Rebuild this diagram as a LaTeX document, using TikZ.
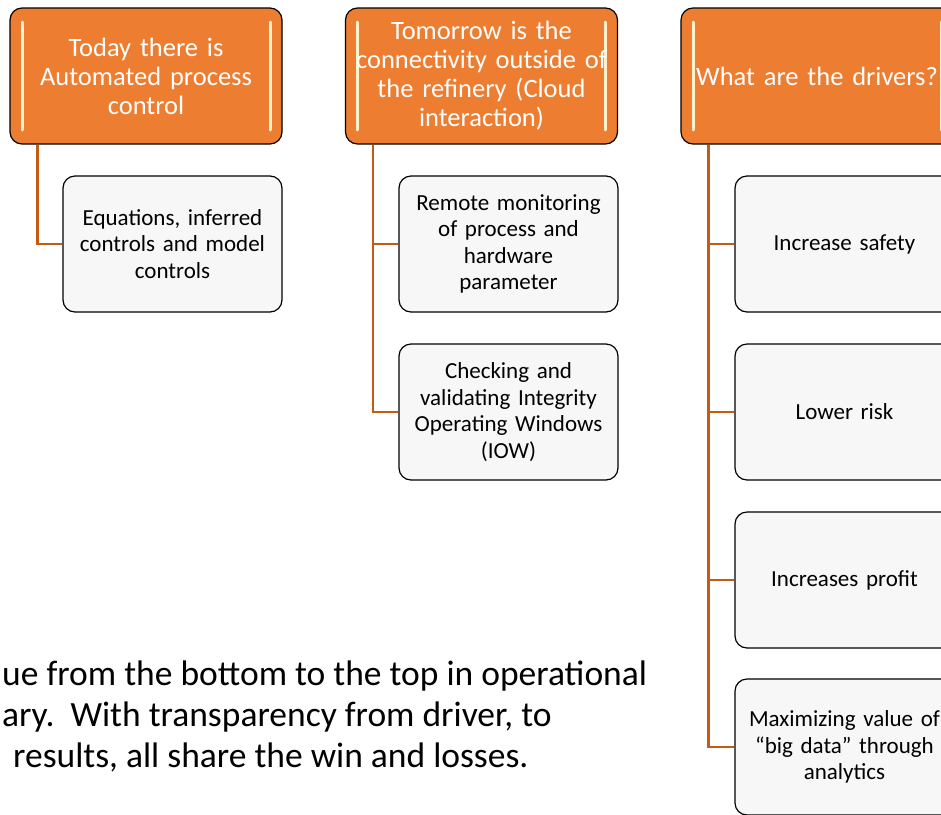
\documentclass[tikz,border=0pt]{standalone}
\usepackage{fontspec}
\setmainfont{Carlito}
\usepackage{tikz}

\definecolor{hdorange}{HTML}{ED7D31}
\definecolor{linkbrown}{HTML}{C55A11}
\definecolor{glow}{HTML}{FFF2CC}

\begin{document}
\begin{tikzpicture}[x=1pt,y=-1pt,
	header/.style={draw=black,line width=1.2pt,fill=hdorange,rounded corners=12pt,
		minimum width=272pt,minimum height=136pt,text width=272pt,align=center,
		text=white,font=\fontsize{26.5}{29}\selectfont,inner sep=0pt,
		path picture={
			\draw[glow,line width=3pt,line cap=round]
			([xshift=12pt,yshift=-14pt]path picture bounding box.north west) --
			([xshift=12pt,yshift=14pt]path picture bounding box.south west);
			\draw[glow,line width=3pt,line cap=round]
			([xshift=-12pt,yshift=-14pt]path picture bounding box.north east) --
			([xshift=-12pt,yshift=14pt]path picture bounding box.south east);}},
	item/.style={draw=black,line width=1.2pt,fill=black!3,rounded corners=12pt,
		minimum width=219pt,minimum height=136pt,text width=219pt,align=center,
		font=\fontsize{23}{26.5}\selectfont,inner sep=0pt},
	link/.style={draw=linkbrown,line width=2.5pt},
	note/.style={anchor=base west,inner sep=0pt,font=\fontsize{35.5}{41}\selectfont}]
	\clip (0,0) rectangle (941,814);
	\fill[white] (0,0) rectangle (941,814);
	% headers
	\node[header] (h1) at (146,76) {Today there is\\Automated process\\control};
	\node[header] (h2) at (481.5,76) {Tomorrow is the\\connectivity outside of\\the refinery (Cloud\\interaction)};
	\node[header] (h3) at (817,76) {What are the drivers?};
	% children
	\node[item] (c11) at (172.5,244) {Equations, inferred\\controls and model\\controls};
	\node[item] (c21) at (508.5,244) {Remote monitoring\\of process and\\hardware\\parameter};
	\node[item] (c22) at (508.5,412) {Checking and\\validating Integrity\\Operating Windows\\(IOW)};
	\node[item] (c31) at (844.5,244) {Increase safety};
	\node[item] (c32) at (844.5,412) {Lower risk};
	\node[item] (c33) at (844.5,580) {Increases profit};
	\node[item] (c34) at (844.5,747) {Maximizing value of\\``big data'' through\\analytics};
	% trunk points
	\coordinate (t1) at ([xshift=28pt]h1.south west);
	\coordinate (t2) at ([xshift=28pt]h2.south west);
	\coordinate (t3) at ([xshift=28pt]h3.south west);
	\path[link]
	(t1) |- (c11.west)
	(t2) |- (c21.west) (t2) |- (c22.west)
	(t3) |- (c31.west) (t3) |- (c32.west)
	(t3) |- (c33.west) (t3) |- (c34.west);
	% note at the bottom
	\node[note] (n1) at (2,685) {ue from the bottom to the top in operational};
	\node[note] (n2) at (2,726) {ary.\ \ With transparency from driver, to};
	\node[note] (n3) at (13,767) {results, all share the win and losses.};
\end{tikzpicture}
\end{document}
